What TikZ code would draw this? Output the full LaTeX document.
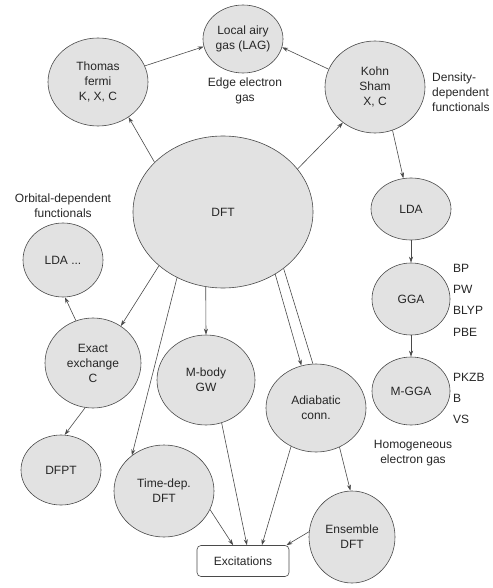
\documentclass[tikz,border=0pt]{standalone}
\usepackage{fontspec}
\setmainfont{Liberation Sans}
\usetikzlibrary{shapes.geometric,arrows.meta}
\definecolor{nodefill}{HTML}{E2E2E2}
\definecolor{linec}{HTML}{4A4A4A}
\begin{document}
\begin{tikzpicture}[x=1pt,y=-1pt,
  every node/.style={font=\fontsize{12}{15}\selectfont, text=black!85},
  bub/.style={ellipse, draw=linec, fill=nodefill, line width=0.6pt, inner sep=0pt, align=center},
  lbl/.style={align=center},
  lbll/.style={align=left, anchor=west, inner sep=0pt},
  arr/.style={draw=linec, line width=0.6pt, -{Stealth[length=6pt,width=4pt]}},
  ln/.style={draw=linec, line width=0.6pt}
]
\useasboundingbox (0,0) rectangle (492,588);
% nodes
\node[bub, minimum width=80pt, minimum height=68pt] (lag) at (243,39) {Local airy\\gas (LAG)};
\node[bub, minimum width=100pt, minimum height=88pt] (tf) at (98,82) {Thomas\\fermi\\K, X, C};
\node[bub, minimum width=100pt, minimum height=92pt] (ks) at (375,87) {Kohn\\Sham\\X, C};
\node[bub, minimum width=180pt, minimum height=152pt] (dft) at (223,212) {DFT};
\node[bub, minimum width=80pt, minimum height=62pt] (lda) at (411,209) {LDA};
\node[bub, minimum width=78pt, minimum height=72pt] (gga) at (411,299) {GGA};
\node[bub, minimum width=78pt, minimum height=68pt] (mgga) at (411,391) {M-GGA};
\node[bub, minimum width=80pt, minimum height=74pt] (ldal) at (63,260) {LDA ...};
\node[bub, minimum width=96pt, minimum height=90pt] (ee) at (93,363) {Exact\\exchange\\C};
\node[bub, minimum width=80pt, minimum height=70pt] (dfpt) at (61,470) {DFPT};
\node[bub, minimum width=98pt, minimum height=90pt] (mb) at (206,380) {M-body\\GW};
\node[bub, minimum width=100pt, minimum height=92pt] (td) at (164,491) {Time-dep.\\DFT};
\node[bub, minimum width=100pt, minimum height=88pt] (ac) at (316,408) {Adiabatic\\conn.};
\node[bub, minimum width=86pt, minimum height=92pt] (ens) at (352,537) {Ensemble\\DFT};
\node[draw=linec, fill=white, line width=0.6pt, rounded corners=4pt, minimum width=92pt, minimum height=31pt, inner sep=0pt] (exc) at (243,561) {Excitations};
% labels
\node[lbl] (edge) at (245,90.5) {Edge electron\\gas};
\node[lbll] (dens) at (432,92) {Density-\\dependent\\functionals};
\node[lbl] (orb) at (63,206) {Orbital-dependent\\functionals};
\node[lbll, font=\fontsize{12}{21.3}\selectfont] (ggal) at (453,300) {BP\\PW\\BLYP\\PBE};
\node[lbll, font=\fontsize{12}{21}\selectfont] (mggal) at (453,398) {PKZB\\B\\VS};
\node[lbl] (heg) at (413,453) {Homogeneous\\electron gas};
% connectors
\draw[arr] (tf.19) -- (lag.191);
\draw[arr] (ks.159) -- (lag.-12);
\draw[arr] (dft.144) -- (tf.-49);
\draw[arr] (dft.30) -- (ks.-132);
\draw[arr] (ks.-68) -- (lda.104);
\draw[arr] (lda.south) -- (gga.north);
\draw[arr] (gga.south) -- (mgga.north);
\draw[arr] (dft.220) -- (ee.53);
\draw[arr] (ee.112) -- (ldal.-87);
\draw[arr] (ee.260) -- (dfpt.84);
\draw[arr] (dft.257) -- (mb.north);
\draw[arr] (dft.235) -- (td.132);
\draw[arr] (dft.-50.5) -- (ac.109);
\draw[ln] (dft.-43) -- (ac.94);
\draw[arr] (mb.-70) -- (exc.76);
\draw[arr] (td.-22) -- (exc.122);
\draw[arr] (ac.237) -- (exc.40);
\draw[arr] (ac.-59) -- (ens.92);
\draw[arr] (ens.173) -- (exc.20);
\end{tikzpicture}
\end{document}
